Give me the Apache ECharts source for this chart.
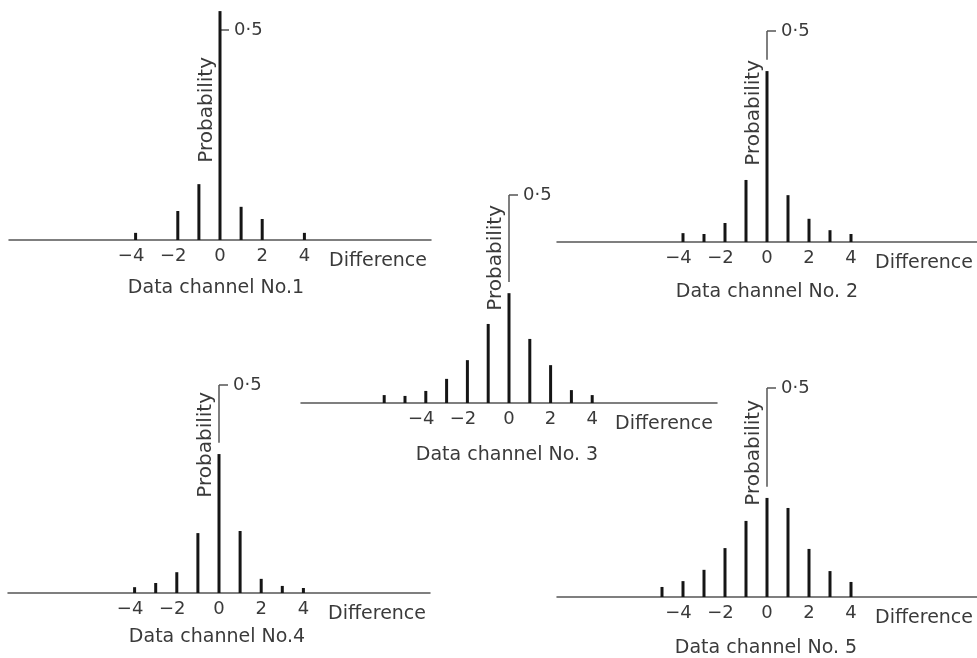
<!DOCTYPE html>
<html>
<head>
<meta charset="utf-8">
<script src="https://cdn.jsdelivr.net/npm/echarts@6/dist/echarts.min.js"></script>
<style>
  html, body { margin: 0; background: #fff; }
  #chart { width: 977px; height: 658px; }
</style>
</head>
<body>
<div id="chart"></div>
<script>
// difference values and probabilities
var diff1 = [-4, -2, -1, 0, 1, 2, 4];
var prob1 = [0.017, 0.069, 0.133, 0.545, 0.079, 0.05, 0.017];

var diff2 = [-4, -3, -2, -1, 0, 1, 2, 3, 4];
var prob2 = [0.021, 0.019, 0.045, 0.147, 0.405, 0.111, 0.055, 0.028, 0.019];

var diff3 = [-6, -5, -4, -3, -2, -1, 0, 1, 2, 3, 4];
var prob3 = [0.019, 0.017, 0.029, 0.058, 0.103, 0.19, 0.264, 0.154, 0.091, 0.031, 0.019];

var diff4 = [-4, -3, -2, -1, 0, 1, 2, 3, 4];
var prob4 = [0.014, 0.024, 0.05, 0.144, 0.334, 0.149, 0.034, 0.017, 0.012];

var diff5 = [-5, -4, -3, -2, -1, 0, 1, 2, 3, 4];
var prob5 = [0.024, 0.038, 0.065, 0.117, 0.182, 0.237, 0.213, 0.115, 0.062, 0.036];

var captions = ['Data channel No.1', 'Data channel No. 2', 'Data channel No. 3', 'Data channel No.4', 'Data channel No. 5'];
var xTicks = [-4, -2, 0, 2, 4];
var yTicks = [0.5];

var panels = [
  { diff: diff1, prob: prob1, box: { left: 9, top: 30, width: 422, height: 210 }, cap: [216, 288], nameGap: -27 },
  { diff: diff2, prob: prob2, box: { left: 557, top: 31, width: 420, height: 211 }, cap: [767, 292], nameGap: -29 },
  { diff: diff3, prob: prob3, box: { left: 301, top: 195, width: 416, height: 208 }, cap: [507, 455], nameGap: -10 },
  { diff: diff4, prob: prob4, box: { left: 8, top: 385, width: 422, height: 208 }, cap: [217, 637], nameGap: -7 },
  { diff: diff5, prob: prob5, box: { left: 557, top: 388, width: 420, height: 209 }, cap: [766, 648], nameGap: -12 }
];

var FONT = 'DejaVu Sans';
var TEXT = '#3a3a3a';
var AXIS = '#555';

var chart = echarts.init(document.getElementById('chart'));

var grids = [], xAxes = [], yAxes = [], series = [], graphics = [];

panels.forEach(function (p, i) {
  grids.push(p.box);

  xAxes.push({
    type: 'value', gridIndex: i, min: -10, max: 10,
    axisLine: { lineStyle: { color: AXIS, width: 1.5 } },
    axisTick: { show: false },
    splitLine: { show: false },
    axisLabel: {
      customValues: xTicks, margin: 7, fontSize: 18, fontFamily: FONT, color: TEXT,
      formatter: function (v) { return v < 0 ? '\u2212' + Math.abs(v) + '\u2002' : String(v); }
    },
    name: 'Difference', nameLocation: 'end', nameGap: -4,
    nameTextStyle: { align: 'right', verticalAlign: 'top', padding: [12, 0, 0, 0], fontSize: 19, fontFamily: FONT, color: TEXT }
  });

  // y axis sits on difference 0, i.e. in the middle of the [-10, 10] range
  yAxes.push({
    type: 'value', gridIndex: i, min: 0, max: 0.5,
    position: 'left', offset: -p.box.width / 2,
    axisLine: { show: false, onZero: false },
    axisTick: { show: true, inside: true, length: 9, customValues: yTicks, lineStyle: { color: AXIS, width: 1.5 } },
    splitLine: { show: false },
    axisLabel: {
      inside: true, customValues: yTicks, margin: 14, fontSize: 18, fontFamily: FONT, color: TEXT,
      formatter: function (v) { return String(v).replace('.', '\u00b7'); }
    },
    name: 'Probability', nameLocation: 'end', nameRotate: 90, nameGap: p.nameGap,
    nameTextStyle: { align: 'right', verticalAlign: 'bottom', padding: [0, 0, 3, 0], fontSize: 20, fontFamily: FONT, color: TEXT }
  });

  // the short vertical axis piece runs from just above the centre bar up to 0.5
  var centre = p.prob[p.diff.indexOf(0)];
  var segment = centre >= 0.5 ? [] : [[{ coord: [0, centre + 0.027] }, { coord: [0, 0.5] }]];

  series.push({
    type: 'bar', xAxisIndex: i, yAxisIndex: i,
    barWidth: 3, clip: false,
    itemStyle: { color: '#151515' },
    data: p.diff.map(function (d, k) { return [d, p.prob[k]]; }),
    markLine: {
      silent: true, symbol: ['none', 'none'], label: { show: false },
      lineStyle: { color: AXIS, width: 1.5, type: 'solid' },
      data: segment
    }
  });

  graphics.push({
    type: 'text', x: p.cap[0], y: p.cap[1],
    style: { text: captions[i], fontSize: 19, fontFamily: FONT, fill: TEXT, align: 'center', verticalAlign: 'middle' }
  });
});

chart.setOption({
  animation: false,
  backgroundColor: '#fff',
  grid: grids,
  xAxis: xAxes,
  yAxis: yAxes,
  series: series,
  graphic: graphics
});
</script>
</body>
</html>
